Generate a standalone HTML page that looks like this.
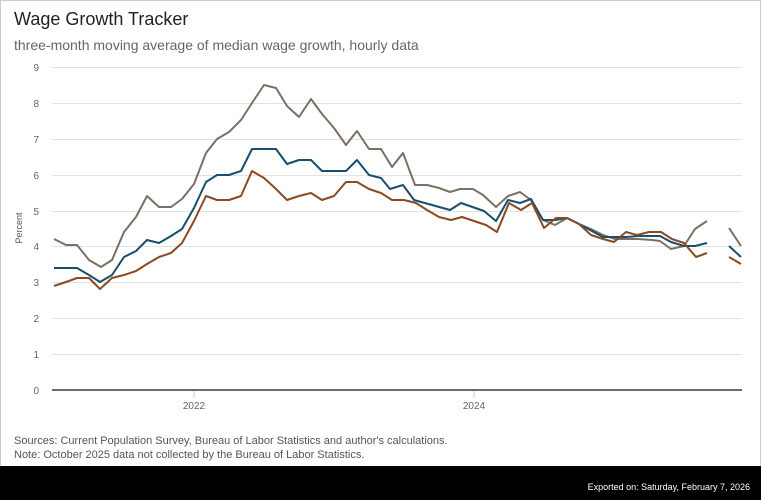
<!DOCTYPE html>
<html><head><meta charset="utf-8"><style>
body{margin:0;width:761px;height:500px;overflow:hidden;background:#fff;font-family:"Liberation Sans",sans-serif}
.wrap{position:absolute;left:0;top:0;width:759px;height:498px;border:1px solid #ccc}
</style></head><body><div class="wrap"></div>
<svg width="761" height="500" style="position:absolute;left:0;top:0" font-family="Liberation Sans, sans-serif">
<text x="14" y="25" font-size="18" fill="#222">Wage Growth Tracker</text>
<text x="14" y="50" font-size="14" fill="#666">three-month moving average of median wage growth, hourly data</text>
<g stroke="#e2e2e2" stroke-width="1">
<line x1="52" x2="742" y1="67.5" y2="67.5"/><line x1="52" x2="742" y1="103.5" y2="103.5"/><line x1="52" x2="742" y1="139.5" y2="139.5"/><line x1="52" x2="742" y1="175.5" y2="175.5"/><line x1="52" x2="742" y1="211.5" y2="211.5"/><line x1="52" x2="742" y1="246.5" y2="246.5"/><line x1="52" x2="742" y1="282.5" y2="282.5"/><line x1="52" x2="742" y1="318.5" y2="318.5"/><line x1="52" x2="742" y1="354.5" y2="354.5"/>
</g>
<line x1="194" x2="194" y1="390" y2="397" stroke="#c5ced6"/><line x1="474" x2="474" y1="390" y2="397" stroke="#c5ced6"/>
<line x1="52" x2="742" y1="390" y2="390" stroke="#6b6b6b" stroke-width="2"/>
<g font-size="10" fill="#666" text-anchor="end">
<text x="39" y="71">9</text><text x="39" y="107">8</text><text x="39" y="143">7</text><text x="39" y="179">6</text><text x="39" y="215">5</text><text x="39" y="250">4</text><text x="39" y="286">3</text><text x="39" y="322">2</text><text x="39" y="358">1</text><text x="39" y="394">0</text>
</g>
<text transform="translate(22,228) rotate(-90)" font-size="9" fill="#555" text-anchor="middle">Percent</text>
<g font-size="10" fill="#666" text-anchor="middle"><text x="194" y="409">2022</text><text x="474" y="409">2024</text></g>
<g fill="none" stroke-width="2" stroke-linejoin="round">
<polyline stroke="#7a7065" points="54,239 66,245 77,245 89,260 101,267 112,260 124,232 136,217 147,196 159,207 171,207 182,199 194,184 206,153 217,139 229,132 241,120 252,103 264,85 276,88 287,106 299,117 311,99 322,114 334,128 346,145 357,131 369,149 381,149 392,167 403,153 415,185 427,185 439,188 450,192 460,189 473,189 483,195 496,207 508,196 520,192 531,200 543,220 555,225 567,218 579,224 591,229 603,235 615,239 627,239 638,239 652,240 660,241 671,249 684,246 695,229 707,221"/>
<polyline stroke="#7a7065" points="729,228 741,246"/>
<polyline stroke="#174f6e" points="54,268 77,268 89,275 100,282 112,275 124,257 136,251 147,240 159,243 171,236 182,229 194,208 206,182 217,175 229,175 241,171 252,149 264,149 276,149 287,164 299,160 311,160 322,171 334,171 346,171 357,160 369,175 381,178 390,189 403,185 414,200 450,210 461,203 484,211 496,221 508,200 520,203 531,199 543,220 555,220 567,218 579,224 603,237 626,237 639,236 660,236 671,242 684,246 695,246 707,243"/>
<polyline stroke="#174f6e" points="729,246 741,257"/>
<polyline stroke="#8a4a22" points="54,286 66,282 77,278 89,278 100,289 112,278 124,275 136,271 147,264 159,257 171,253 182,243 194,221 206,196 217,200 229,200 241,196 252,171 264,178 276,189 287,200 299,196 311,193 322,200 334,196 346,182 357,182 369,189 381,193 392,200 404,200 416,203 427,210 439,217 451,220 462,217 474,221 486,225 497,232 509,203 521,210 532,203 544,228 556,218 567,218 579,224 591,235 603,239 614,242 626,232 637,235 649,232 661,232 672,239 684,243 696,257 707,253"/>
<polyline stroke="#8a4a22" points="729,257 741,264"/>
</g>
<text x="14" y="444" font-size="11" fill="#555">Sources: Current Population Survey, Bureau of Labor Statistics and author's calculations.</text>
<text x="14" y="458" font-size="11" fill="#555">Note: October 2025 data not collected by the Bureau of Labor Statistics.</text>
<rect x="0" y="466" width="761" height="34" fill="#000"/>
<text x="750" y="490" font-size="9" fill="#fff" text-anchor="end">Exported on: Saturday, February 7, 2026</text>
</svg></body></html>
